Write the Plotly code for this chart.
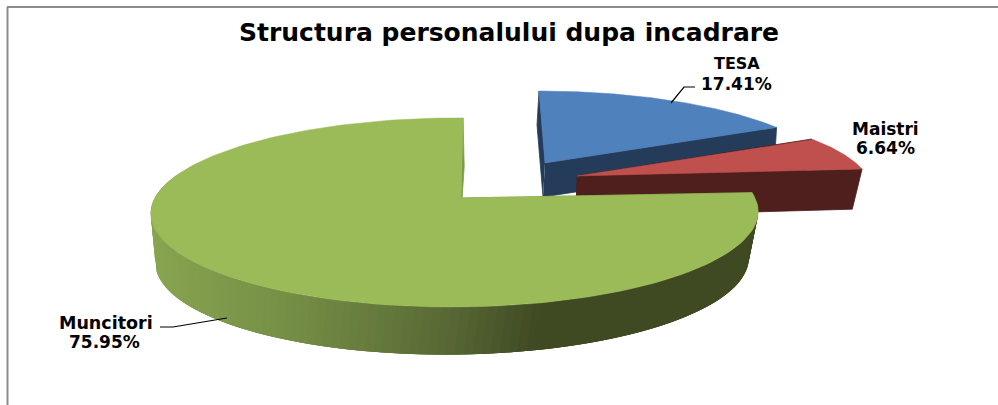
import numpy as np
import plotly.graph_objects as go

# ---- data
categories = ["TESA", "Maistri", "Muncitori"]
shares = [17.41, 6.64, 75.95]
title_text = "Structura personalului dupa incadrare"

# ---- style
top_colors = {"TESA": "#4f81bd", "Maistri": "#c0504d", "Muncitori": "#9bbb59"}
wall_colors = {"TESA": "#243c5a", "Maistri": "#4e1f1d", "Muncitori": "#7d9a48"}
rim_stops_x = [155, 300, 450, 540, 760]
rim_stops_rgb = [(136, 165, 80), (116, 141, 69), (88, 104, 53), (63, 74, 35), (63, 74, 35)]

P = 0.153
views = {
    "TESA": dict(top=dict(cx=545, cy=163, kx=282.5, ky=83, sh=-6.9, ty=0, p=P, q=0),
                 bot=dict(cx=543, cy=197, kx=282.5, ky=83, sh=-6.9, ty=0, p=P, q=0)),
    "Maistri": dict(top=dict(cx=577, cy=176, kx=288.9, ky=82, sh=-11.6, ty=2.2, p=P, q=0),
                    bot=dict(cx=575, cy=217, kx=281, ky=82, sh=-11.6, ty=3, p=P, q=0)),
    "Muncitori": dict(top=dict(cx=461, cy=198, kx=300, ky=92.3, sh=2.3, ty=0, p=P, q=0.02),
                      bot=dict(cx=459, cy=246, kx=293, ky=92, sh=6, ty=0, p=P, q=0.02)),
}


def project(view, theta_deg):
    t = np.radians(np.asarray(theta_deg, dtype=float))
    u, v = np.sin(t), np.cos(t)
    w = 1 + view["p"] * v + view["q"] * u
    return (view["cx"] + (view["kx"] * u + view["sh"] * v) / w,
            view["cy"] - (view["ky"] * v + view["ty"] * u) / w)


def poly(xs, ys, color, lw=0.8):
    return go.Scatter(x=list(xs), y=list(ys), mode="lines", fill="toself", fillcolor=color,
                      line=dict(color=color, width=lw), hoverinfo="skip", showlegend=False)


edges = np.concatenate([[0], np.cumsum(shares)]) * 3.6
spans = {c: (edges[i], edges[i + 1]) for i, c in enumerate(categories)}
fig = go.Figure()

for cat in categories:
    a0, a1 = spans[cat]
    vw = views[cat]
    ax0, ay0 = project(vw["top"], [a0, a1])
    bx0, by0 = project(vw["bot"], [a0, a1])
    # straight cut walls from the hub to each slice edge
    cxt, cyt = vw["top"]["cx"], vw["top"]["cy"]
    cxb, cyb = vw["bot"]["cx"], vw["bot"]["cy"]
    for j in range(2):
        fig.add_trace(poly([cxt, ax0[j], bx0[j], cxb], [cyt, ay0[j], by0[j], cyb], wall_colors[cat]))
    # outer rim with its gradient; each band overlaps the next so no seams show
    if cat == "Muncitori":
        th = np.arange(a0, 285, 1.5)
        for k in range(len(th) - 1):
            seg = np.linspace(th[k], th[min(k + 3, len(th) - 1)], 6)
            tx, ty = project(vw["top"], seg)
            bx, by = project(vw["bot"], seg)
            mx = np.interp(th[k] + 0.75, seg, (tx + bx) / 2)
            rgb = [np.interp(mx, rim_stops_x, [s[i] for s in rim_stops_rgb]) for i in range(3)]
            col = "rgb(%d,%d,%d)" % tuple(int(c) for c in rgb)
            fig.add_trace(poly(np.r_[tx, bx[::-1]], np.r_[ty, by[::-1]], col, lw=0))
    # top face
    arc = np.linspace(a0, a1, 160)
    x, y = project(vw["top"], arc)
    fig.add_trace(poly(np.r_[cxt, x, cxt], np.r_[cyt, y, cyt], top_colors[cat], lw=0.5))


# leader lines
def leader(xs, ys):
    fig.add_trace(go.Scatter(x=xs, y=ys, mode="lines", line=dict(color="#000000", width=1.2),
                             hoverinfo="skip", showlegend=False))


leader([671, 684, 695], [103, 87, 87])
leader([160, 173, 227], [327, 327, 318])

name_style = {"TESA": ((737, 63), 16), "Maistri": ((885, 129), 17), "Muncitori": ((106, 323), 17.5)}
pct_pos = {"TESA": (736, 84), "Maistri": (885, 148), "Muncitori": (104, 342)}
for cat, val in zip(categories, shares):
    (nx, ny), nsize = name_style[cat]
    fig.add_annotation(x=nx, y=ny, xref="x", yref="y", showarrow=False, text=f"<b>{cat}</b>",
                       font=dict(family="DejaVu Sans", size=nsize, color="#000000"))
    px, py = pct_pos[cat]
    fig.add_annotation(x=px, y=py, xref="x", yref="y", showarrow=False, text=f"<b>{val:.2f}%</b>",
                       font=dict(family="DejaVu Sans", size=17, color="#000000"))
fig.add_annotation(x=509, y=32, xref="x", yref="y", showarrow=False, text=f"<b>{title_text}</b>",
                   font=dict(family="DejaVu Sans", size=25, color="#000000"))

# chart frame
frame = dict(color="#8c8c8c", width=2)
fig.add_shape(type="line", x0=7, x1=998, y0=7, y1=7, xref="x", yref="y", line=frame)
fig.add_shape(type="line", x0=7.5, x1=7.5, y0=7, y1=405, xref="x", yref="y", line=frame)

fig.update_layout(width=998, height=405, margin=dict(l=0, r=0, t=0, b=0),
                  paper_bgcolor="#ffffff", plot_bgcolor="#ffffff", showlegend=False)
fig.update_xaxes(range=[0, 998], visible=False, fixedrange=True)
fig.update_yaxes(range=[405, 0], visible=False, fixedrange=True)
fig.write_html("out.html", config={"displayModeBar": False},
               post_script="document.body.style.margin='0';")
